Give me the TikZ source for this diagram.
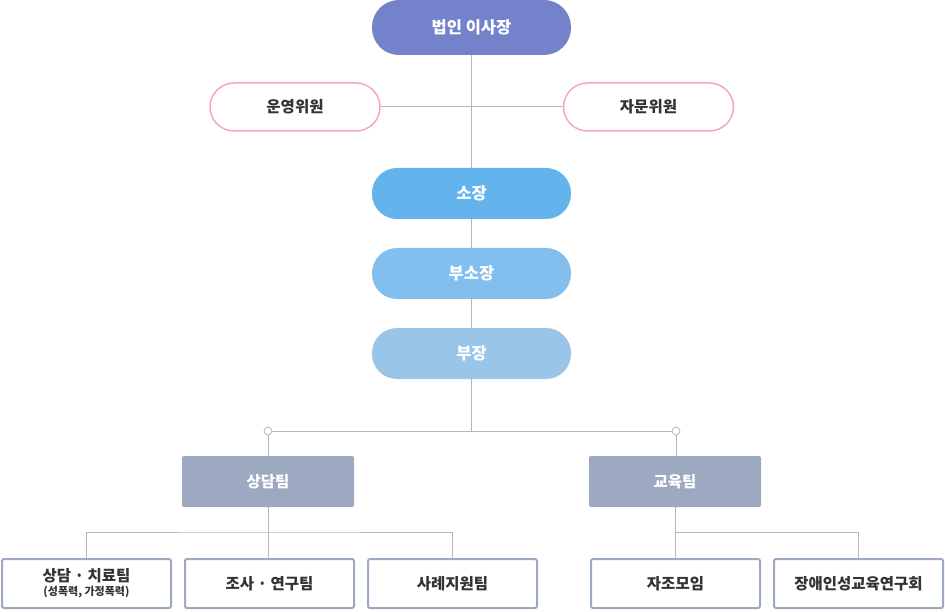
\documentclass[tikz,border=0pt]{standalone}
\usepackage{fontspec}
\setmainfont{Noto Sans CJK KR}
\usepackage{tikz}
\usetikzlibrary{positioning, backgrounds}
\definecolor{boardpurple}{RGB}{116, 130, 204}
\definecolor{chiefblue}{RGB}{99, 179, 237}
\definecolor{viceblue}{RGB}{130, 191, 238}
\definecolor{headblue}{RGB}{153, 197, 233}
\definecolor{teamgray}{RGB}{157, 169, 192}
\definecolor{compink}{RGB}{245, 169, 181}
\definecolor{linkgray}{RGB}{183, 183, 183}
\definecolor{labeldark}{RGB}{51, 51, 51}

\begin{document}
\begin{tikzpicture}[x=1pt, y=-1pt,
  pill/.style={rectangle, rounded corners=25pt, minimum width=199pt,
    minimum height=51pt, inner sep=0pt, text=white,
    font=\bfseries\fontsize{16.5}{19}\selectfont},
  committee/.style={rectangle, rounded corners=24pt, draw=compink,
    line width=1.5pt, fill=white, minimum width=170pt, minimum height=48pt,
    inner sep=0pt, text=labeldark, font=\bfseries\fontsize{15.5}{18}\selectfont},
  team/.style={rectangle, rounded corners=2pt, fill=teamgray,
    minimum width=172pt, minimum height=51pt, inner sep=0pt, text=white,
    font=\bfseries\fontsize{15.5}{18}\selectfont},
  unit/.style={rectangle, rounded corners=2pt, draw=teamgray, line width=2pt,
    fill=white, minimum width=169pt, minimum height=49pt, inner sep=0pt,
    align=center, text=labeldark, font=\bfseries\fontsize{15.5}{18}\selectfont},
  knob/.style={circle, draw=linkgray, fill=white, line width=0.8pt,
    minimum size=8pt, inner sep=0pt},
  link/.style={draw=linkgray, line width=1pt}
]
  \useasboundingbox (0,0) rectangle (945,612);

  % top of the chart
  \node[pill, fill=boardpurple, minimum height=55pt, rounded corners=27pt]
    (chair) at (471.5,27.5) {법인 이사장};
  \node[committee] (opcom) at (295,107) {운영위원};
  \node[committee] (advcom) at (648.5,107) {자문위원};
  \node[pill, fill=chiefblue] (director) at (471.5,193.5) {소장};
  \node[pill, fill=viceblue] (vice) at (471.5,273.5) {부소장};
  \node[pill, fill=headblue] (head) at (471.5,353.5) {부장};

  % teams
  \coordinate (split) at (471.5,431);
  \node[knob] (lknob) at (268,431) {};
  \node[knob] (rknob) at (676,431) {};
  \node[team] (counsel) at (268,481.5) {상담팀};
  \node[team] (edu) at (675,481.5) {교육팀};

  % units
  \node[unit] (therapy) at (86.5,583.5)
    {상담 · 치료팀\\[-4pt]{\fontsize{11}{13}\selectfont (성폭력, 가정폭력)}};
  \node[unit] (research) at (269.5,583.5) {조사 · 연구팀};
  \node[unit] (casework) at (452.5,583.5) {사례지원팀};
  \node[unit] (selfhelp) at (675.5,583.5) {자조모임};
  \node[unit] (sexed) at (858.5,583.5) {장애인성교육연구회};
  \coordinate (csplit) at (268,532);
  \coordinate (esplit) at (675,532);

  \begin{scope}[on background layer]
    \draw[link] (chair.south) -- (director.north);
    \draw[link] (opcom.east) -- (advcom.west);
    \draw[link] (director.south) -- (vice.north);
    \draw[link] (vice.south) -- (head.north);
    \draw[link] (head.south) -- (split);
    \draw[link] (lknob.east) -- (rknob.west);
    \draw[link] (lknob.south) -- (counsel.north);
    \draw[link] (rknob.south) -- (rknob.south |- edu.north);
    \draw[link] (counsel.south) -- (csplit);
    \draw[link] (therapy.north) |- (csplit) -| (casework.north);
    \draw[link] (csplit) -- (csplit |- research.north);
    \draw[link] (edu.south) -- (esplit);
    \draw[link] (esplit) -- (esplit |- selfhelp.north);
    \draw[link] (esplit) -| (sexed.north);
  \end{scope}
\end{tikzpicture}
\end{document}
